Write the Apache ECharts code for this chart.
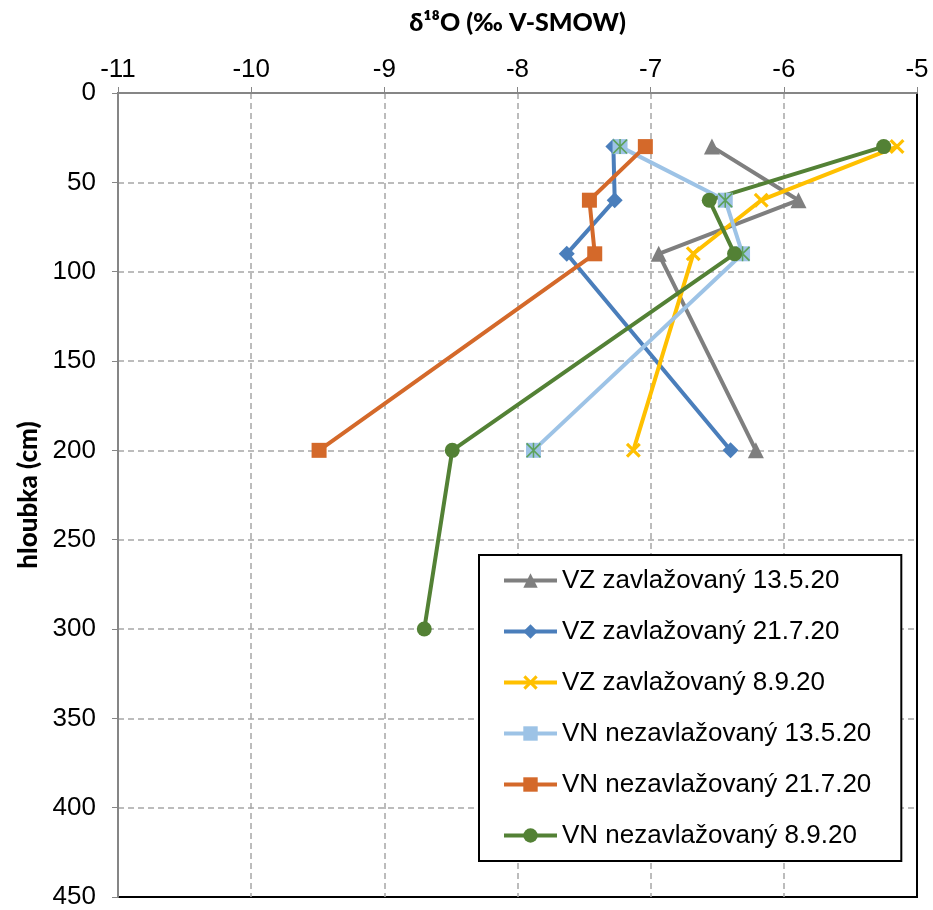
<!DOCTYPE html>
<html><head><meta charset="utf-8">
<script src="https://cdn.jsdelivr.net/npm/echarts@6/dist/echarts.min.js"></script>
<style>html,body{margin:0;padding:0;background:#fff}#c{width:933px;height:910px}</style>
</head><body><div id="c"></div>
<script>
const depths = [30, 60, 90, 200];
const depthsVN89 = [30, 60, 90, 200, 300];
const seriesNames = ["VZ zavlažovaný 13.5.20","VZ zavlažovaný 21.7.20","VZ zavlažovaný 8.9.20","VN nezavlažovaný 13.5.20","VN nezavlažovaný 21.7.20","VN nezavlažovaný 8.9.20"];
const vz135 = [-6.54, -5.89, -6.94, -6.21];
const vz217 = [-7.28, -7.27, -7.63, -6.40];
const vz89  = [-5.15, -6.17, -6.68, -7.13];
const vn135 = [-7.23, -6.44, -6.31, -7.88];
const vn217 = [-7.04, -7.46, -7.42, -9.49];
const vn89  = [-5.25, -6.56, -6.37, -8.49, -8.70];
const xTicks = {min: -11, max: -5, interval: 1};
const yTicks = {min: 0, max: 450, interval: 50};

const pairs = (xs, ys) => xs.map((v, i) => [v, ys[i]]);
const FONT = "'Liberation Sans', Arial, sans-serif";
const xPath = 'path://M0,1.5L1.5,0L10,8.5L8.5,10ZM8.5,0L10,1.5L1.5,10L0,8.5Z';
const starPath = 'path://M0,0.8L0.8,0L10,9.2L9.2,10ZM9.2,0L10,0.8L0.8,10L0,9.2ZM4.5,0H5.5V10H4.5Z';

function lineSeries(name, data, color, symbol, size) {
  return {
    name, type: 'line', data, symbol, symbolSize: size,
    lineStyle: {color, width: 4},
    itemStyle: {color},
    animation: false
  };
}

const chart = echarts.init(document.getElementById('c'), null, {renderer: 'canvas'});
chart.setOption({
  animation: false,
  backgroundColor: '#fff',
  grid: {left: 118, right: 16, top: 93, bottom: 10, show: true, borderColor: '#000', borderWidth: 2, backgroundColor: 'transparent'},
  xAxis: {
    type: 'value', position: 'top', min: xTicks.min, max: xTicks.max, interval: xTicks.interval,
    name: 'δ¹⁸O (‰ V-SMOW)', nameLocation: 'middle', nameGap: 58,
    nameTextStyle: {fontFamily: "Lato, 'Open Sans', sans-serif", fontWeight: 900, fontSize: 25, color: '#000'},
    axisLine: {show: true, lineStyle: {color: '#868686', width: 2}},
    axisTick: {show: true, length: 6, lineStyle: {color: '#868686', width: 1}},
    axisLabel: {fontFamily: FONT, fontSize: 26, color: '#000', margin: 10},
    splitLine: {show: true, showMaxLine: false, showMinLine: false, lineStyle: {color: '#A6A6A6', width: 1.5, type: [6, 4]}}
  },
  yAxis: {
    type: 'value', inverse: true, min: yTicks.min, max: yTicks.max, interval: yTicks.interval,
    name: 'hloubka (cm)', nameLocation: 'middle', nameGap: 72, nameRotate: 90,
    nameTextStyle: {fontFamily: "Lato, 'Open Sans', sans-serif", fontWeight: 900, fontSize: 26, color: '#000'},
    axisLine: {show: true, lineStyle: {color: '#868686', width: 2}},
    axisTick: {show: true, length: 6, lineStyle: {color: '#868686', width: 1}},
    axisLabel: {fontFamily: FONT, fontSize: 26, color: '#000', margin: 22},
    splitLine: {show: true, showMaxLine: false, showMinLine: false, lineStyle: {color: '#A6A6A6', width: 1.5, type: [6, 4]}}
  },
  legend: {
    data: seriesNames, orient: 'vertical', left: 479, top: 555,
    backgroundColor: '#fff', borderColor: '#000', borderWidth: 2,
    padding: [10, 30, 10, 23], itemWidth: 53, itemHeight: 18, itemGap: 20,
    lineStyle: {width: 4},
    textStyle: {fontFamily: FONT, fontSize: 26, color: '#000', lineHeight: 31, padding: [0, 0, 0, 0]}
  },
  series: [
    lineSeries(seriesNames[0], pairs(vz135, depths), '#7F7F7F', 'triangle', 16),
    lineSeries(seriesNames[1], pairs(vz217, depths), '#4A7EBB', 'diamond', 16),
    lineSeries(seriesNames[2], pairs(vz89, depths), '#FFC000', xPath, 15),
    lineSeries(seriesNames[3], pairs(vn135, depths), '#9DC3E6', 'rect', 15),
    {name: 'star', type: 'scatter', data: pairs(vn135, depths), symbol: starPath, symbolSize: 15, itemStyle: {color: '#4E9A38'}, silent: true, z: 3},
    lineSeries(seriesNames[4], pairs(vn217, depths), '#D4692A', 'rect', 15),
    lineSeries(seriesNames[5], pairs(vn89, depthsVN89), '#538135', 'circle', 15)
  ]
});
</script></body></html>
